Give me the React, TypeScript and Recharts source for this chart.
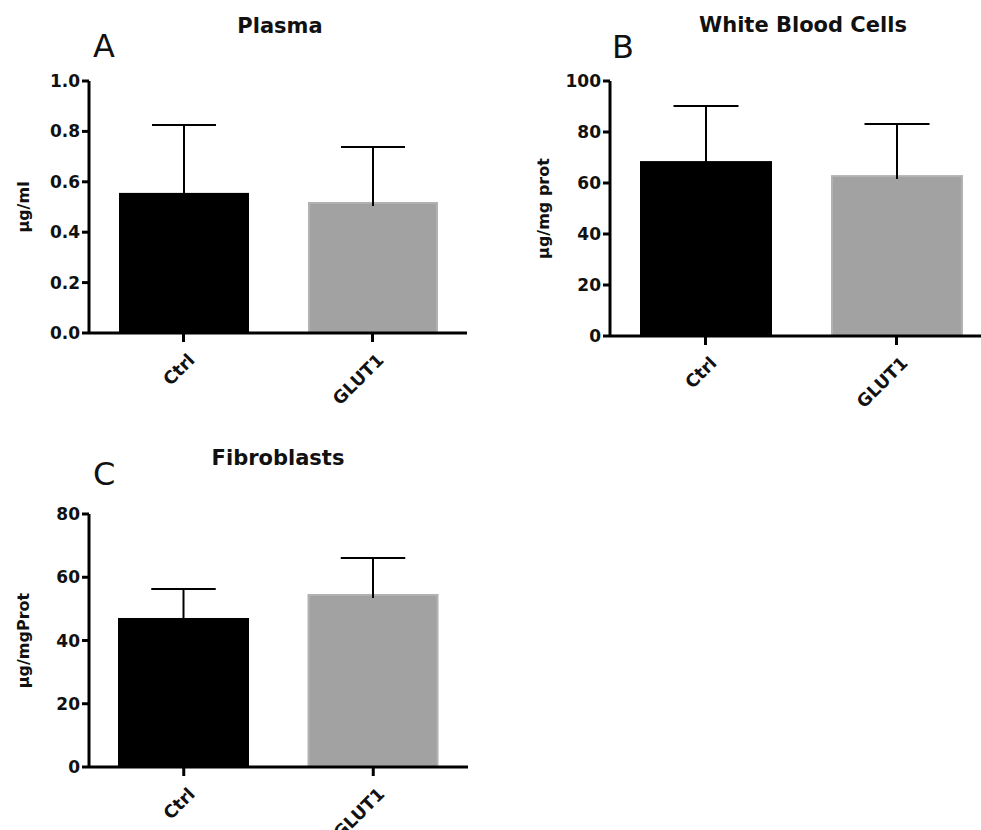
import { BarChart, Bar, XAxis, YAxis, Cell } from "recharts";

const groups = ["Ctrl", "GLUT1"];
const barColors = ["#000000", "#a2a2a2"];
const barEdges = ["#000000", "#b2b2b2"];

const plasmaMean = [0.552, 0.516];
const plasmaSd = [0.273, 0.222];
const plasmaTicks = [0, 0.2, 0.4, 0.6, 0.8, 1.0];

const wbcMean = [68.2, 62.7];
const wbcSd = [22.0, 20.4];
const wbcTicks = [0, 20, 40, 60, 80, 100];

const fibroMean = [46.8, 54.4];
const fibroSd = [9.5, 11.7];
const fibroTicks = [0, 20, 40, 60, 80];

const FONT = "'DejaVu Sans', sans-serif";
const INK = "#111";

function toRows(mean: number[], sd: number[]) {
  return groups.map((name, i) => ({ name, mean: mean[i], sd: sd[i] }));
}

// bar + one-sided (upper) SD whisker, scaled from the bar's own height
function BarWithSd(props: any) {
  const { x, y, width, height, fill, stroke, payload } = props;
  const k = payload.mean ? height / payload.mean : 0;
  const top = y - payload.sd * k;
  const cx = x + width / 2;
  const cap = width / 4;
  return (
    <g>
      <rect x={x} y={y} width={width} height={height} fill={fill} stroke={stroke} strokeWidth={2} />
      <line x1={cx} y1={y + 3} x2={cx} y2={top} stroke="#000" strokeWidth={2} />
      <line x1={cx - cap} y1={top} x2={cx + cap} y2={top} stroke="#000" strokeWidth={2} />
    </g>
  );
}

function SlantTick(props: any) {
  const { x, y, payload } = props;
  return (
    <text
      transform={`translate(${x + 8},${y + 13}) rotate(-45)`}
      textAnchor="end"
      dominantBaseline="central"
      fontFamily={FONT}
      fontWeight="bold"
      fontSize={17.5}
      fill={INK}
    >
      {payload.value}
    </text>
  );
}

interface PanelProps {
  left: number;
  top: number;
  width: number;
  height: number;
  margin: { top: number; right: number; bottom: number; left: number };
  axisWidth: number;
  labelOffset: number;
  mean: number[];
  sd: number[];
  ticks: number[];
  barSize: number;
  unit: string;
  digits: number;
}

function Panel(p: PanelProps) {
  const rows = toRows(p.mean, p.sd);
  return (
    <div style={{ position: "absolute", left: p.left, top: p.top }}>
      <BarChart width={p.width} height={p.height} data={rows} margin={p.margin}>
        <XAxis
          dataKey="name"
          height={60}
          interval={0}
          axisLine={{ stroke: "#000", strokeWidth: 3 }}
          tickLine={{ stroke: "#000", strokeWidth: 3 }}
          tickSize={9}
          tick={<SlantTick />}
        />
        <YAxis
          type="number"
          width={p.axisWidth}
          domain={[0, p.ticks[p.ticks.length - 1]]}
          ticks={p.ticks}
          interval={0}
          tickFormatter={(v) => Number(v).toFixed(p.digits)}
          axisLine={{ stroke: "#000", strokeWidth: 3 }}
          tickLine={{ stroke: "#000", strokeWidth: 3 }}
          tickSize={7}
          tick={{ fill: INK, fontFamily: FONT, fontWeight: "bold", fontSize: 17 }}
          label={{
            value: p.unit,
            angle: -90,
            position: "insideLeft",
            offset: p.labelOffset,
            style: { textAnchor: "middle", fill: INK, fontFamily: FONT, fontWeight: "bold", fontSize: 16 },
          }}
        />
        <Bar dataKey="mean" barSize={p.barSize} isAnimationActive={false} shape={<BarWithSd />}>
          {rows.map((r, i) => (
            <Cell key={r.name} fill={barColors[i]} stroke={barEdges[i]} />
          ))}
        </Bar>
      </BarChart>
    </div>
  );
}

export default function App() {
  return (
    <div
      style={{
        position: "absolute",
        left: 0,
        top: 0,
        width: 981,
        height: 830,
        overflow: "hidden",
        background: "#fff",
      }}
    >
      <Panel
        left={0}
        top={0}
        width={490}
        height={420}
        margin={{ top: 81, right: 23, bottom: 27, left: 0 }}
        axisWidth={89}
        labelOffset={23}
        mean={plasmaMean}
        sd={plasmaSd}
        ticks={plasmaTicks}
        barSize={128}
        unit="µg/ml"
        digits={1}
      />
      <Panel
        left={490}
        top={0}
        width={520}
        height={420}
        margin={{ top: 81, right: 18, bottom: 24, left: 0 }}
        axisWidth={120}
        labelOffset={53}
        mean={wbcMean}
        sd={wbcSd}
        ticks={wbcTicks}
        barSize={130}
        unit="µg/mg prot"
        digits={0}
      />
      <Panel
        left={0}
        top={420}
        width={490}
        height={410}
        margin={{ top: 94, right: 22, bottom: 3, left: 0 }}
        axisWidth={89}
        labelOffset={23}
        mean={fibroMean}
        sd={fibroSd}
        ticks={fibroTicks}
        barSize={129}
        unit="µg/mgProt"
        digits={0}
      />
      <svg
        width={981}
        height={830}
        style={{ position: "absolute", left: 0, top: 0, pointerEvents: "none" }}
      >
        <g fontFamily={FONT} fill={INK}>
          <text x={93} y={57} fontSize={32}>A</text>
          <text x={280} y={33} fontSize={21} fontWeight="bold" textAnchor="middle">Plasma</text>
          <text x={612} y={58} fontSize={32}>B</text>
          <text x={803} y={32} fontSize={21} fontWeight="bold" textAnchor="middle">White Blood Cells</text>
          <text x={93} y={485} fontSize={32}>C</text>
          <text x={278} y={465} fontSize={21} fontWeight="bold" textAnchor="middle">Fibroblasts</text>
        </g>
      </svg>
    </div>
  );
}
